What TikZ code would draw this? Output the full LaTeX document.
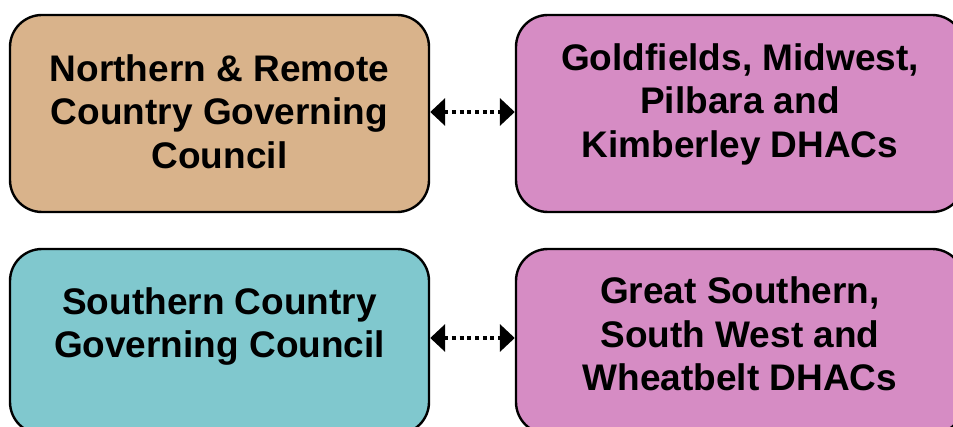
\documentclass[tikz,border=0pt]{standalone}
\usepackage{fontspec}
\setmainfont{Liberation Sans}
\usetikzlibrary{arrows.meta}
\definecolor{boxtan}{RGB}{217,179,139}
\definecolor{boxpink}{RGB}{214,140,196}
\definecolor{boxteal}{RGB}{128,200,206}
\tikzset{
  box/.style={draw=black, line width=2.4pt, rounded corners=32pt, inner sep=0pt},
  txt/.style={inner sep=0pt, align=center, font=\fontsize{37}{43.5}\selectfont\bfseries},
  link/.style={line width=4pt, dash pattern=on 4pt off 3.7pt,
    {Triangle[length=15pt,width=27pt]}-{Triangle[length=15pt,width=27pt]}}
}
\begin{document}
\begin{tikzpicture}[x=1pt,y=-1pt]
\useasboundingbox (0,0) rectangle (953,427);
\clip (0,0) rectangle (953,427);
\node[box, fill=boxtan, minimum width=419pt, minimum height=197pt] (nrc) at (219.5,113.5) {};
\node[box, fill=boxpink, minimum width=448pt, minimum height=197pt] (gmp) at (740,113.5) {};
\node[box, fill=boxteal, minimum width=419pt, minimum height=185pt] (scgc) at (219.5,341.5) {};
\node[box, fill=boxpink, minimum width=448pt, minimum height=185pt] (gsw) at (740,341.5) {};
\node[txt] (t1) at (219.5,111.4) {Northern \& Remote\\Country Governing\\Council};
\node[txt] (t2) at (740,104) {Goldfields, Midwest,\\Pilbara and\\Kimberley DHACs};
\node[txt] (t3) at (219.5,326.5) {Southern Country\\Governing Council};
\node[txt] (t4) at (740,334) {Great Southern,\\South West and\\Wheatbelt DHACs};
\draw[link] ([yshift=1.5pt]nrc.east) -- ([yshift=1.5pt]gmp.west);
\draw[link] ([yshift=3.5pt]scgc.east) -- ([yshift=3.5pt]gsw.west);
\end{tikzpicture}
\end{document}
